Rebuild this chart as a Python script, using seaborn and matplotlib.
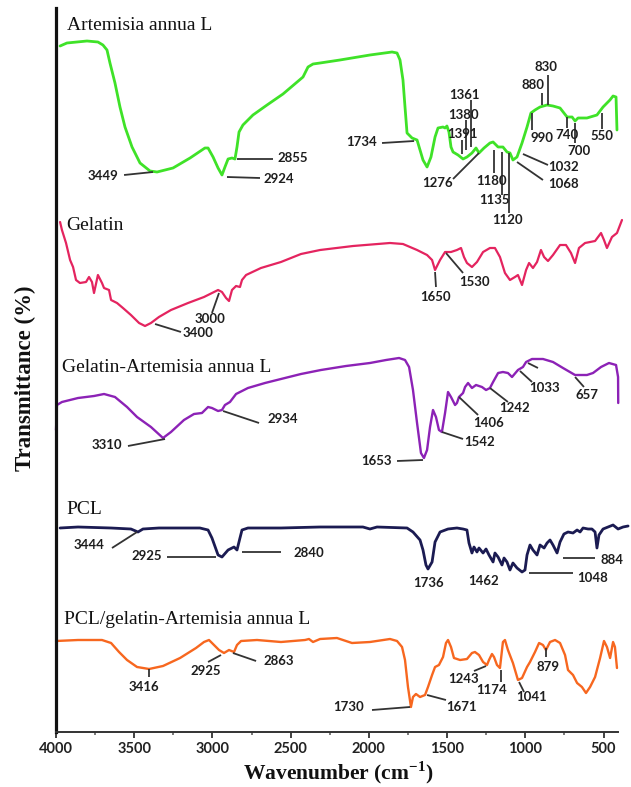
import matplotlib
matplotlib.use("Agg")
import matplotlib.pyplot as plt
import pandas as pd
import seaborn as sns
from matplotlib.ticker import FixedLocator

# ---------------- data (wavenumber in cm-1, transmittance in arbitrary stacked units) -------------
art_wn = [3974, 3930, 3802, 3732, 3700, 3674, 3655, 3623, 3591, 3559, 3514, 3463, 3399, 3354, 3252, 3143,
          3048, 3028, 2996, 2964, 2939, 2920, 2900, 2875, 2856, 2843, 2830, 2805, 2741, 2651, 2549, 2421,
          2389, 2357, 2312, 2185, 1993, 1852, 1820, 1801, 1782, 1769, 1756, 1724, 1692, 1673, 1654, 1628,
          1603, 1577, 1558, 1526, 1513, 1501, 1488, 1475, 1462, 1430, 1398, 1373, 1341, 1315, 1296, 1264,
          1226, 1206, 1174, 1143, 1117, 1098, 1079, 1053, 1021, 989, 964, 938, 906, 861, 823, 778, 733,
          701, 682, 663, 606, 542, 503, 459, 439, 420, 414]
art_t = [686, 689, 691, 690, 687, 682, 669, 649, 625, 605, 585, 569, 561, 560, 564, 574,
         584, 584, 575, 564, 557, 565, 573, 574, 573, 585, 600, 607, 617, 627, 638, 655,
         665, 668, 669, 672, 677, 680, 679, 672, 652, 625, 599, 594, 592, 582, 572, 565,
         575, 595, 604, 605, 604, 606, 600, 585, 580, 577, 573, 575, 579, 584, 579, 584,
         589, 590, 585, 585, 580, 579, 572, 575, 589, 605, 619, 622, 625, 627, 626, 624, 615,
         615, 611, 614, 614, 617, 625, 632, 636, 635, 602]

gel_wn = [3974, 3962, 3936, 3910, 3891, 3872, 3847, 3808, 3789, 3770, 3757, 3732, 3706, 3693, 3661, 3648,
          3610, 3572, 3521, 3469, 3431, 3393, 3342, 3265, 3156, 3054, 2964, 2939, 2913, 2894, 2875, 2849,
          2824, 2811, 2785, 2690, 2562, 2434, 2312, 2101, 1865, 1782, 1692, 1628, 1596, 1577, 1545, 1513,
          1475, 1437, 1411, 1392, 1373, 1341, 1309, 1270, 1226, 1194, 1162, 1130, 1098, 1066, 1047, 1021,
          995, 976, 951, 925, 900, 880, 855, 823, 778, 740, 708, 682, 657, 618, 586, 554, 516, 497, 478,
          446, 414, 382]
gel_t = [510, 502, 489, 472, 465, 452, 449, 450, 455, 450, 439, 457, 449, 444, 442, 432,
         429, 424, 417, 409, 406, 409, 415, 422, 429, 435, 442, 440, 434, 431, 442, 446,
         445, 452, 457, 464, 470, 478, 482, 486, 489, 488, 482, 477, 472, 462, 472, 480,
         480, 482, 484, 475, 469, 465, 470, 480, 484, 484, 475, 459, 452, 455, 457, 447,
         462, 469, 464, 470, 482, 475, 471, 477, 487, 487, 479, 469, 484, 489, 490, 491, 499, 492, 484,
         495, 499, 512]

ga_wn = [4000, 3994, 3962, 3859, 3757, 3693, 3623, 3546, 3482, 3393, 3316, 3265, 3182, 3118, 3067, 3028,
         3003, 2964, 2939, 2920, 2888, 2849, 2773, 2664, 2562, 2434, 2306, 2146, 1993, 1890, 1807, 1769,
         1743, 1718, 1692, 1667, 1648, 1628, 1609, 1590, 1571, 1552, 1533, 1513, 1494, 1475, 1449, 1437,
         1424, 1398, 1385, 1366, 1341, 1315, 1277, 1251, 1226, 1206, 1174, 1143, 1111, 1085, 1047, 1015,
         995, 957, 887, 823, 759, 682, 606, 567, 516, 465, 420, 407, 406]
ga_t = [302, 327, 330, 334, 336, 338, 335, 325, 315, 305, 294, 300, 312, 318, 319, 325,
        324, 321, 322, 327, 330, 338, 344, 349, 353, 358, 362, 366, 369, 372, 374, 372,
        365, 342, 309, 279, 274, 282, 305, 322, 315, 302, 300, 319, 340, 335, 327, 329,
        335, 339, 345, 349, 344, 347, 345, 342, 344, 350, 359, 360, 359, 355, 362, 365,
        370, 373, 373, 370, 364, 357, 357, 359, 365, 369, 367, 355, 329]

pcl_wn = [3974, 3859, 3648, 3521, 3476, 3444, 3342, 3080, 3028, 3003, 2964, 2939, 2900, 2862, 2843, 2824,
          2811, 2773, 2562, 2312, 2038, 1993, 1948, 1756, 1718, 1673, 1654, 1635, 1622, 1596, 1577, 1545,
          1494, 1437, 1398, 1373, 1360, 1341, 1328, 1309, 1296, 1270, 1251, 1232, 1206, 1194, 1174, 1149,
          1136, 1117, 1098, 1079, 1053, 1021, 1002, 989, 970, 951, 925, 906, 880, 861, 842, 823, 797, 778,
          753, 727, 695, 669, 650, 631, 599, 574, 554, 542, 529, 503, 471, 439, 407, 375, 343]
pcl_t = [204, 205, 204, 203, 200, 203, 204, 204, 202, 194, 177, 175, 182, 185, 182, 194,
         202, 204, 204, 205, 205, 203, 205, 204, 200, 192, 182, 167, 163, 170, 190, 200,
         203, 204, 203, 202, 189, 179, 185, 180, 184, 179, 183, 177, 170, 179, 175, 167,
         174, 170, 162, 169, 164, 160, 162, 177, 187, 182, 177, 187, 184, 189, 192, 187, 179, 190,
         198, 200, 199, 202, 200, 204, 203, 203, 200, 184, 197, 203, 205, 207, 203, 205, 206]

pga_wn = [4000, 3859, 3706, 3648, 3597, 3546, 3482, 3405, 3316, 3207, 3105, 3054, 3022, 2990, 2958, 2926,
          2894, 2862, 2843, 2817, 2715, 2562, 2408, 2383, 2357, 2312, 2204, 2108, 1993, 1865, 1820, 1788,
          1769, 1750, 1731, 1718, 1699, 1673, 1641, 1622, 1596, 1577, 1552, 1526, 1507, 1494, 1475, 1456,
          1417, 1373, 1341, 1322, 1296, 1270, 1245, 1232, 1213, 1200, 1181, 1162, 1143, 1130, 1111, 1079,
          1047, 1021, 989, 970, 938, 912, 887, 868, 842, 810, 778, 746, 727, 695, 669, 638, 612, 586, 554,
          522, 497, 478, 458, 439, 427, 414]
pga_t = [91, 92, 92, 89, 80, 72, 65, 63, 66, 74, 84, 90, 92, 87, 82, 79,
         82, 80, 87, 91, 92, 90, 92, 93, 90, 93, 94, 89, 90, 93, 91, 85,
         72, 45, 25, 35, 38, 35, 37, 45, 57, 65, 67, 75, 89, 92, 85, 74,
         72, 73, 79, 80, 77, 70, 67, 72, 78, 75, 67, 64, 90, 92, 82, 69,
         52, 54, 65, 70, 80, 89, 87, 82, 90, 92, 89, 77, 62, 57, 49, 45, 39, 45, 55,
         74, 91, 85, 74, 90, 85, 64]

series_names = ["Artemisia annua L", "Gelatin", "Gelatin-Artemisia annua L", "PCL",
                "PCL/gelatin-Artemisia annua L"]

tick_values = [4000, 3500, 3000, 2500, 2000, 1500, 1000, 500]
tick_labels = ["4000", "3500", "3000", "2500", "2000", "1500", "1000", "500"]
minor_values = [3750, 3250, 2750, 2250, 1750, 1250, 750]

# peak annotations: label, text position (wn, T), leader line (wn1, T1, wn2, T2) or None
peak_labels = [
    ("3449", 3700, 556, (3565, 557, 3380, 560)),
    ("2855", 2485, 574, (2843, 573, 2613, 573)),
    ("2924", 2574, 553, (2907, 555, 2696, 554)),
    ("1734", 2044, 590, (1916, 589, 1711, 591)),
    ("1361", 1392, 637, (1347, 632, 1347, 585)),
    ("1380", 1392, 617, (1379, 612, 1379, 582)),
    ("1391", 1405, 598, (1405, 592, 1405, 578)),
    ("1276", 1564, 549, (1462, 553, 1296, 579)),
    ("1180", 1213, 551, (1200, 582, 1200, 559)),
    ("1135", 1200, 532, (1149, 580, 1149, 537)),
    ("1120", 1111, 512, (1104, 579, 1104, 519)),
    ("1032", 753, 565, (1015, 578, 855, 567)),
    ("1068", 759, 548, (1053, 570, 887, 552)),
    ("990", 893, 594, (957, 619, 957, 602)),
    ("880", 951, 647, (893, 639, 893, 627)),
    ("830", 868, 665, (855, 657, 855, 627)),
    ("740", 733, 597, (733, 615, 733, 604)),
    ("700", 657, 581, (682, 609, 682, 589)),
    ("550", 510, 596, (510, 619, 510, 603)),
    ("3400", 3092, 399, (3367, 408, 3201, 400)),
    ("3000", 3016, 413, (2958, 439, 3003, 419)),
    ("1650", 1571, 435, (1577, 460, 1571, 445)),
    ("1530", 1322, 450, (1507, 479, 1398, 459)),
    ("3310", 3674, 287, (3540, 286, 3303, 293)),
    ("2934", 2549, 313, (2932, 321, 2702, 309)),
    ("1653", 1954, 271, (1820, 271, 1654, 272)),
    ("1542", 1290, 290, (1533, 300, 1398, 293)),
    ("1406", 1238, 309, (1424, 335, 1302, 317)),
    ("1242", 1066, 324, (1226, 344, 1111, 330)),
    ("1033", 880, 344, (1034, 361, 957, 350)),
    ("", 0, 0, (983, 369, 919, 364)),
    ("657", 606, 337, (682, 355, 625, 345)),
    ("3444", 3789, 187, (3642, 184, 3482, 200)),
    ("2925", 3418, 176, (3290, 175, 2977, 175)),
    ("2840", 2383, 179, (2811, 180, 2562, 180)),
    ("1736", 1616, 149, None),
    ("1462", 1270, 151, None),
    ("1048", 567, 154, (976, 159, 695, 159)),
    ("884", 446, 172, (759, 174, 554, 174)),
    ("3416", 3437, 45, (3405, 63, 3405, 55)),
    ("2925", 3041, 61, (2945, 77, 3028, 70)),
    ("2863", 2574, 71, (2869, 79, 2721, 71)),
    ("1730", 2127, 25, (1980, 22, 1737, 25)),
    ("1671", 1405, 25, (1628, 37, 1507, 32)),
    ("1243", 1398, 53, (1328, 61, 1251, 66)),
    ("1174", 1213, 42, (1155, 62, 1155, 50)),
    ("1041", 957, 35, (1040, 50, 1008, 40)),
    ("879", 855, 65, (868, 84, 868, 75)),
]

name_pos = [(3930, 706), (3936, 507), (3962, 364), (3936, 223), (3949, 112)]

# ---------------- styling ----------------
sns.set_style("white")
plt.rcParams['font.family'] = ['Liberation Serif', 'DejaVu Serif']
plt.rcParams['mathtext.fontset'] = 'custom'
plt.rcParams['mathtext.rm'] = 'Liberation Serif'
plt.rcParams['mathtext.bf'] = 'Liberation Serif:bold'

colors = ['#3fe228', '#e4245f', '#8c22b6', '#1b1b52', '#f7671f']
widths = [2.0, 1.6, 1.7, 2.0, 1.7]

fig = plt.figure(figsize=(6.31, 7.87), dpi=100)
ax = fig.add_axes([56 / 631, 55 / 787, 561.6 / 631, 724 / 787])

all_series = [(art_wn, art_t), (gel_wn, gel_t), (ga_wn, ga_t), (pcl_wn, pcl_t), (pga_wn, pga_t)]
for (wn, tr), c, lw in zip(all_series, colors, widths):
    df = pd.DataFrame({'wn': wn, 'T': tr})
    sns.lineplot(data=df, x='wn', y='T', sort=False, estimator=None, errorbar=None,
                 color=c, linewidth=lw, ax=ax)
for ln in ax.get_lines():
    ln.set_clip_on(False)

ax.set_xlim(4000, 410)
ax.set_ylim(0, 724)
ax.set_xlabel('')
ax.set_ylabel('')
ax.set_yticks([])

ax.xaxis.set_major_locator(FixedLocator(tick_values))
ax.set_xticklabels(tick_labels)
ax.xaxis.set_minor_locator(FixedLocator(minor_values))
ax.tick_params(axis='x', which='major', direction='out', length=4, width=1.3,
               colors='#333333', pad=3, labelsize=10.5, bottom=True)
ax.tick_params(axis='x', which='minor', direction='out', length=2.5, width=1.1,
               colors='#555555', bottom=True)
for lab in ax.get_xticklabels():
    lab.set_fontfamily('Lato')
    lab.set_fontweight('bold')
    lab.set_color('#222222')

for s in ['top', 'right']:
    ax.spines[s].set_visible(False)
ax.spines['left'].set_linewidth(2.3)
ax.spines['left'].set_color('#111111')
ax.spines['bottom'].set_linewidth(1.4)
ax.spines['bottom'].set_color('#333333')

for label, tx, ty, seg in peak_labels:
    if seg is not None:
        ax.plot([seg[0], seg[2]], [seg[1], seg[3]], color='#333333', lw=1.3,
                solid_capstyle='butt', clip_on=False)
    if label:
        ax.text(tx, ty, label, ha='center', va='center', fontfamily='Lato',
                fontweight='bold', fontsize=9.5, color='#1e1e1e')

for name, (nx, ny) in zip(series_names, name_pos):
    ax.text(nx, ny, name, ha='left', va='center', fontsize=14, color='#111111',
            fontfamily='Liberation Serif')

fig.text(25 / 631, 1 - 378 / 787, 'Transmittance (%)', rotation=90, ha='center', va='center',
         fontsize=16.5, fontweight='bold', color='#111111')
fig.text(338 / 631, 1 - 773 / 787, r'Wavenumber (cm$^{\mathbf{-1}}$)', ha='center', va='center',
         fontsize=15.5, fontweight='bold', color='#111111')

fig.savefig('out.png', dpi=100)
